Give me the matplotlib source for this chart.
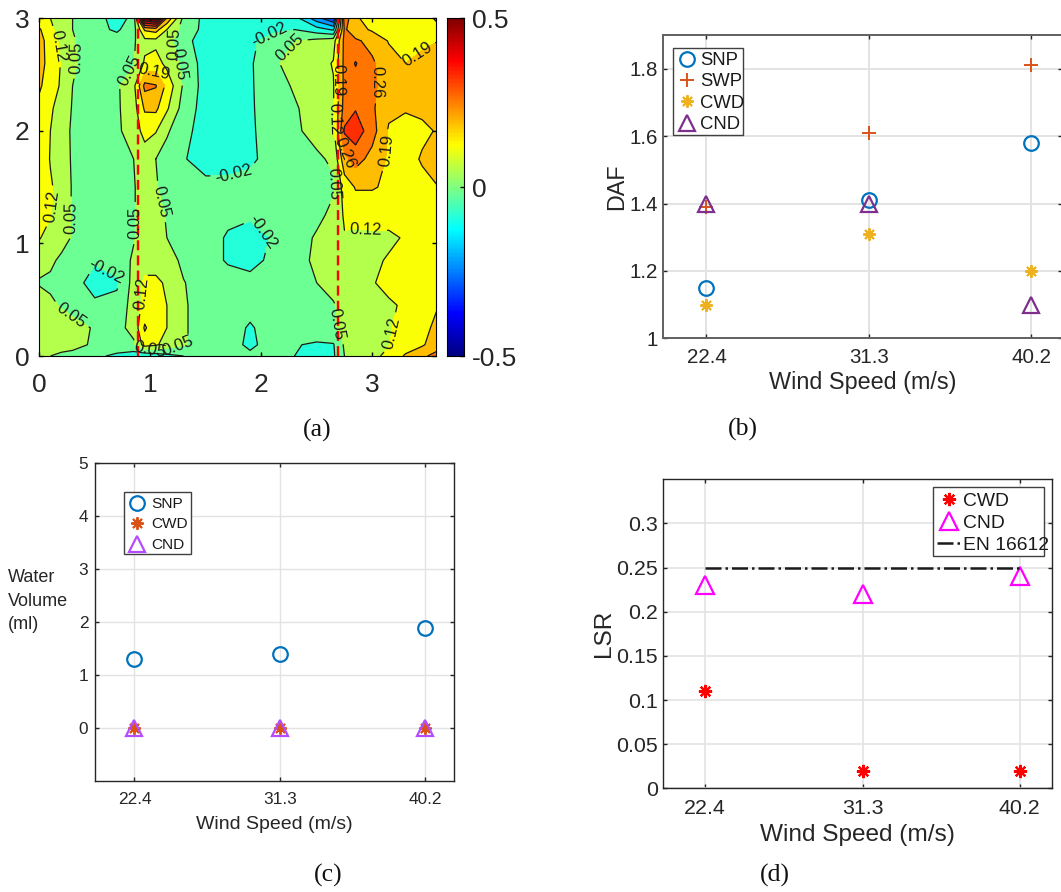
import numpy as np
import matplotlib
matplotlib.use("Agg")
import matplotlib.pyplot as plt
from matplotlib.colors import ListedColormap
from matplotlib.patches import Rectangle

plt.rcParams['font.family'] = ['Liberation Sans', 'DejaVu Sans']

W, H = 1061, 892

# ==========================
# Data (a): surface field
# ==========================
field_x = [0, .1, .2, .3, .5, .7, .85, .95, 1.05, 1.15, 1.3, 1.5, 1.7, 1.9, 2.1, 2.3, 2.5, 2.65, 2.75, 2.85, 3.0, 3.15, 3.3, 3.45, 3.6]
field_y = [0, .1, .25, .45, .65, .85, 1.05, 1.25, 1.5, 1.75, 2.0, 2.2, 2.4, 2.6, 2.8, 2.9, 3.0]
field_z = [
    [.07, .05, .04, .03, -.01, -.03, -.06, -.08, -.06, -.04, -.02, .02, .02, 0, .02, -.02, -.04, -.03, .05, .09, .11, .13, .2, .25, .28],
    [.09, .08, .07, .07, .04, .01, .04, .15, .13, .09, .055, .03, .02, -.04, .02, -.015, -.03, -.025, .06, .08, .105, .118, .15, .18, .24],
    [.095, .09, .08, .07, .045, .03, .07, .2, .14, .12, .055, .03, .02, -.03, .02, .02, .03, .04, .07, .09, .10, .115, .14, .17, .21],
    [.08, .06, .045, .03, -.01, 0, .08, .14, .14, .12, .055, .03, .02, .01, .02, .02, .03, .045, .07, .09, .10, .11, .13, .15, .19],
    [.045, .04, .03, 0, -.04, -.03, .075, .135, .135, .11, .052, .03, .02, .01, .02, .03, .05, .07, .08, .09, .115, .14, .15, .16, .16],
    [.07, .06, .04, .02, -.015, .01, .06, .09, .09, .07, .04, .02, -.03, -.05, 0, .03, .06, .08, .09, .10, .11, .125, .13, .15, .15],
    [.125, .09, .07, .045, .03, .03, .045, .08, .07, .05, .03, .02, -.03, -.05, -.015, .03, .055, .08, .115, .10, .105, .11, .125, .16, .17],
    [.16, .125, .08, .045, .03, .03, .045, .08, .07, .045, .03, .02, 0, -.01, .01, .03, .04, .06, .13, .15, .15, .14, .15, .16, .17],
    [.17, .13, .085, .045, .03, .03, .045, .08, .055, .03, .01, 0, 0, 0, .02, .03, .04, .045, .15, .195, .195, .18, .17, .175, .19],
    [.18, .115, .07, .045, .03, .03, .05, .09, .05, .02, -.015, -.05, -.05, -.03, 0, .03, .045, .055, .24, .29, .235, .18, .17, .195, .21],
    [.19, .12, .08, .04, .03, .035, .09, .14, .125, .06, 0, -.05, -.05, -.03, .01, .045, .06, .10, .34, .37, .29, .18, .17, .18, .195],
    [.17, .13, .09, .045, .03, .04, .09, .2, .205, .13, .02, -.05, -.05, -.03, .02, .045, .07, .115, .29, .325, .27, .21, .195, .20, .21],
    [.2, .155, .11, .05, .03, .04, .10, .28, .265, .17, .04, -.05, -.05, -.03, .03, .055, .08, .115, .28, .30, .275, .225, .21, .21, .22],
    [.22, .16, .115, .055, .03, .03, .045, .13, .15, .10, .03, -.05, -.05, -.03, .04, .07, .09, .125, .28, .335, .27, .22, .19, .21, .21],
    [.23, .14, .11, .055, .02, .01, .04, .10, .10, .08, 0, -.05, -.05, -.03, 0, .05, .07, .09, .28, .27, .24, .185, .17, .175, .19],
    [.2, .13, .10, .05, 0, -.03, .02, .2, .22, .12, .02, -.04, -.05, -.05, -.03, -.02, -.06, -.10, .27, .22, .18, .16, .15, .16, .18],
    [.13, .12, .09, .05, .01, -.05, 0, .55, .6, .25, .03, -.04, -.05, -.04, -.03, -.06, -.2, -.3, .3, .2, .16, .14, .14, .17, .2],
]

# ==========================
# Data (b), (c), (d)
# ==========================
wind = [22.4, 31.3, 40.2]
wind_labels = ["22.4", "31.3", "40.2"]

daf_snp = [1.15, 1.41, 1.58]
daf_swp = [1.39, 1.61, 1.81]
daf_cwd = [1.10, 1.31, 1.20]
daf_cnd = [1.40, 1.40, 1.10]

water_snp = [1.3, 1.4, 1.9]
water_cwd = [0, 0, 0]
water_cnd = [0, 0, 0]

lsr_cwd = [0.11, 0.02, 0.02]
lsr_cnd = [0.23, 0.22, 0.24]
lsr_en = [0.25, 0.25, 0.25]


def px_axes(fig, left, top, right, bottom):
    return fig.add_axes([left / W, 1 - bottom / H, (right - left) / W, (bottom - top) / H])


def matlab_jet(x):
    x = np.asarray(x, dtype=float)
    rgb = [np.clip(1.5 - np.abs(4 * x - c), 0, 1) for c in (3, 2, 1)]
    return np.stack(rgb, axis=-1)


def legend_at(ax, box, anchor, size, **kw):
    # frame is drawn on its own because the text runs past it in the original
    left, top, right, bottom = box
    ax.add_patch(Rectangle((left / W, 1 - bottom / H), (right - left) / W, (bottom - top) / H,
                           transform=fig.transFigure, fc="white", ec="#404040", lw=1.0, zorder=4, clip_on=False))
    ax.legend(loc="upper left", bbox_to_anchor=(anchor[0] / W, 1 - anchor[1] / H), bbox_transform=fig.transFigure,
              borderaxespad=0, borderpad=0, fontsize=size, frameon=False, labelcolor="#1a1a1a", **kw)


def style_scatter_axes(ax, tick_size, label_size, tick_pad, label_pad, spine="#262626", spine_w=1.0, grid_w=1.0):
    ax.set_xlim(20, 42)
    ax.set_xticks(wind)
    ax.set_xticklabels(wind_labels)
    ax.grid(True, color="#e3e3e3", lw=grid_w)
    ax.set_axisbelow(True)
    ax.tick_params(direction="in", length=3, width=1, top=True, right=True, labelsize=tick_size,
                   labelcolor="#262626", color="#262626")
    ax.tick_params(axis="x", pad=tick_pad)
    for s in ax.spines.values():
        s.set_color(spine)
        s.set_linewidth(spine_w)
    ax.set_xlabel("Wind Speed (m/s)", fontsize=label_size, color="#262626", labelpad=label_pad)


fig = plt.figure(figsize=(W / 100, H / 100), dpi=100)

# ==========================
# (a) contour map
# ==========================
levels = np.arange(-0.51, 0.64, 0.07)
band_colors = [tuple(c) for c in matlab_jet(np.clip(levels[:-1] + 0.5, 0, 1))]
labelled = levels[7:12]
unlabelled = np.concatenate([levels[:7], levels[12:]])

ax = px_axes(fig, 39.3, 18.3, 436, 356)
ax.set_xlim(0, 3.575)
ax.set_ylim(0, 3)
ax.contourf(field_x, field_y, field_z, levels=levels, colors=band_colors)
ax.contour(field_x, field_y, field_z, levels=unlabelled, colors="#1a1a1a", linewidths=0.9, linestyles="solid")
cs = ax.contour(field_x, field_y, field_z, levels=labelled, colors="#1a1a1a", linewidths=0.9, linestyles="solid")
ax.plot([0.89, 0.89], [0, 3], color="red", ls=(0, (4.2, 2.2)), lw=1.7)
ax.plot([2.69, 2.69], [0, 3], color="red", ls=(0, (4.2, 2.2)), lw=1.7)
label_spots = [(.16, 2.75), (.35, 2.65), (.79, 2.55), (1.03, 2.54), (1.16, 2.76), (1.34, 2.6), (1.75, 1.63),
               (2.07, 2.87), (2.2, 2.78), (3.4, 2.69), (3.03, 2.43), (2.62, 2.1), (2.69, 2.45), (2.74, 1.8),
               (3.07, 1.83), (2.62, 1.53), (2.94, 1.09), (2.8, .29), (3.2, .2), (.06, 1.33), (.26, 1.23),
               (.87, 1.18), (1.09, 1.37), (.6, .75), (1.97, 1.05), (.24, .3), (.92, .56), (1.24, .14), (1.0, .05)]
ax.clabel(cs, manual=label_spots, fontsize=12, fmt="%.2f", inline=True)
ax.set_xlim(0, 3.575)
ax.set_ylim(0, 3)
ax.set_xticks([0, 1, 2, 3])
ax.set_yticks([0, 1, 2, 3])
ax.tick_params(direction="in", length=3, width=1, top=True, right=True, labelsize=19, labelcolor="#262626")
ax.tick_params(axis="x", pad=12)
ax.tick_params(axis="y", pad=7)

cax = px_axes(fig, 446.5, 18.3, 464, 356)
cbar_vals = np.linspace(-0.5, 0.5, 256)
cbar_map = ListedColormap(matlab_jet(np.linspace(0, 1, 256)))
cax.pcolormesh([0, 1], np.linspace(-0.5, 0.5, 257), cbar_vals[:, None], cmap=cbar_map, vmin=-0.5, vmax=0.5)
cax.set_xticks([])
cax.yaxis.tick_right()
cax.set_yticks([-0.5, 0, 0.5])
cax.set_yticklabels(["-0.5", "0", "0.5"])
cax.tick_params(direction="in", length=3, width=1, labelsize=19, labelcolor="#262626", pad=6)

# ==========================
# (b) DAF
# ==========================
ax = px_axes(fig, 662.7, 35, 1062, 338.3)
ax.plot(wind, daf_snp, "o", ms=10.5, mfc="none", mec="#0072BD", mew=1.6, label="SNP")
ax.plot(wind, daf_swp, "+", ms=9.5, mec="#D95319", mew=1.4, label="SWP")
ax.plot(wind, daf_cwd, ls="none", marker=(8, 2, 0), ms=9, mec="#EDB120", mew=1.4, label="CWD")
ax.plot(wind, daf_cnd, "^", ms=12, mfc="none", mec="#7E2F8E", mew=1.6, label="CND")
style_scatter_axes(ax, 14.8, 16.8, 7, 3, spine="#606060", spine_w=1.4, grid_w=1.4)
ax.set_xlim(20, 41.88)
ax.set_ylim(1, 1.9)
ax.set_yticks([1, 1.2, 1.4, 1.6, 1.8])
ax.set_yticklabels(["1", "1.2", "1.4", "1.6", "1.8"])
ax.set_ylabel("DAF", fontsize=16.8, color="#262626", labelpad=1)
legend_at(ax, (672.7, 48, 743.3, 135), (676, 52), 13.3, labelspacing=0.24, handlelength=1.2, handletextpad=0.1)

# ==========================
# (c) water volume
# ==========================
ax = px_axes(fig, 95.3, 463.3, 454.3, 781.3)
ax.plot(wind, water_snp, "o", ms=10.5, mfc="none", mec="#0072BD", mew=1.6, label="SNP")
ax.plot(wind, water_cwd, ls="none", marker=(8, 2, 0), ms=9, mec="#D95319", mew=1.4, label="CWD")
ax.plot(wind, water_cnd, "^", ms=12, mfc="none", mec="#B44CFF", mew=1.6, label="CND")
style_scatter_axes(ax, 12.4, 14, 8, 6)
ax.set_ylim(-1, 5)
ax.set_yticks([0, 1, 2, 3, 4, 5])
ax.tick_params(axis="y", pad=5)
legend_at(ax, (124, 491.7, 191, 554.3), (129.5, 497), 11.1, labelspacing=0.42, handlelength=1.0, handletextpad=0.39)
fig.text(8 / W, 1 - 601 / H, "Water\nVolume\n(ml)", fontsize=13, color="#262626", va="center", ha="left", linespacing=1.5)

# ==========================
# (d) LSR
# ==========================
ax = px_axes(fig, 662.7, 479.3, 1051.7, 788.3)
ax.plot(wind, lsr_cwd, ls="none", marker=(8, 2, 0), ms=9.5, mec="red", mew=1.6, label="CWD")
ax.plot(wind, lsr_cnd, "^", ms=12.5, mfc="none", mec="#FF00FF", mew=1.6, label="CND")
ax.plot(wind, lsr_en, color="#1a1a1a", ls="-.", lw=1.8, label="EN 16612")
style_scatter_axes(ax, 15.4, 17.6, 7.5, 4.5, grid_w=1.2)
ax.set_ylim(0, 0.35)
ax.set_yticks([0, 0.05, 0.1, 0.15, 0.2, 0.25, 0.3])
ax.set_yticklabels(["0", "0.05", "0.1", "0.15", "0.2", "0.25", "0.3"])
ax.set_ylabel("LSR", fontsize=17.6, color="#262626", labelpad=1)
legend_at(ax, (933.3, 486.7, 1044.3, 556), (936.7, 492), 13.9, labelspacing=0.25, handlelength=1.24, handletextpad=0.1)

# ==========================
# Panel captions
# ==========================
for name, cx, cy in [("(a)", 317, 430), ("(b)", 743, 429), ("(c)", 328, 875), ("(d)", 775, 875)]:
    fig.text(cx / W, 1 - cy / H, name, family="Liberation Serif", fontsize=18.5, color="#111111", ha="center", va="center")

fig.savefig("out.png", dpi=100)
